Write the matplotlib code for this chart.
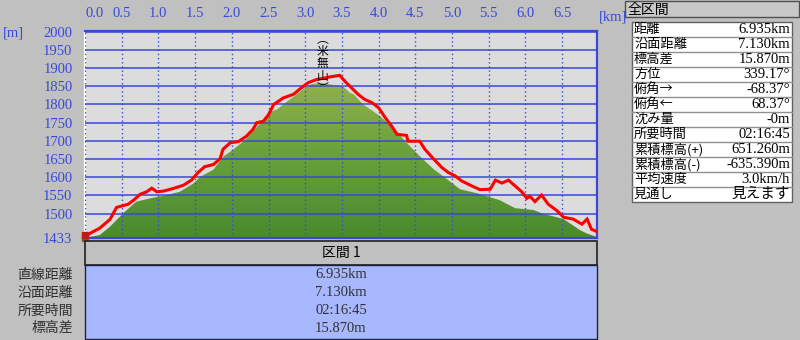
import numpy as np
import matplotlib.pyplot as plt
from matplotlib.patches import Rectangle, Polygon
from matplotlib.colors import LinearSegmentedColormap

plt.rcParams['font.family'] = ['Liberation Serif', 'Noto Sans CJK JP']

# ground profile (km, m)
terrain_km = [0.0, 0.04, 0.2, 0.34, 0.52, 0.70, 0.89, 1.11, 1.29, 1.48, 1.57, 1.75,
              1.88, 2.02, 2.20, 2.34, 2.52, 2.61, 2.79, 2.97, 3.07, 3.20, 3.43, 3.52,
              3.61, 3.66, 3.79, 4.02, 4.20, 4.38, 4.56, 4.75, 4.93, 5.11, 5.34, 5.52,
              5.65, 5.86, 6.11, 6.22, 6.52, 6.74, 6.83, 6.97]
terrain_m = [1433, 1435, 1441, 1464, 1501, 1533, 1542, 1551, 1560, 1583, 1601, 1621,
             1656, 1676, 1706, 1738, 1779, 1786, 1814, 1841, 1855, 1860, 1852, 1849,
             1832, 1828, 1800, 1768, 1736, 1695, 1658, 1622, 1595, 1567, 1556, 1545,
             1537, 1515, 1510, 1501, 1485, 1455, 1446, 1436]

# gps track (km, m)
track_km = [0.0, 0.07, 0.2, 0.34, 0.43, 0.59, 0.68, 0.75, 0.84, 0.91, 0.98, 1.07,
            1.20, 1.34, 1.45, 1.54, 1.63, 1.75, 1.84, 1.88, 1.98, 2.09, 2.20, 2.29,
            2.34, 2.43, 2.50, 2.57, 2.70, 2.84, 2.93, 3.04, 3.16, 3.25, 3.34, 3.47,
            3.54, 3.63, 3.72, 3.81, 3.91, 4.0, 4.09, 4.18, 4.25, 4.38, 4.40, 4.56,
            4.63, 4.75, 4.86, 4.95, 5.04, 5.13, 5.25, 5.38, 5.52, 5.59, 5.68, 5.77,
            5.86, 5.95, 6.02, 6.06, 6.13, 6.22, 6.31, 6.43, 6.52, 6.65, 6.77, 6.84,
            6.90, 6.97]
track_m = [1437, 1446, 1460, 1484, 1517, 1526, 1540, 1553, 1560, 1570, 1560, 1562,
           1569, 1578, 1592, 1613, 1629, 1635, 1651, 1677, 1695, 1698, 1713, 1732,
           1750, 1754, 1772, 1800, 1818, 1828, 1843, 1860, 1869, 1872, 1876, 1880,
           1864, 1846, 1828, 1814, 1805, 1791, 1764, 1740, 1718, 1715, 1699, 1699,
           1677, 1650, 1627, 1613, 1604, 1590, 1578, 1566, 1567, 1592, 1584, 1592,
           1576, 1560, 1542, 1548, 1533, 1551, 1526, 1508, 1490, 1485, 1471, 1485,
           1457, 1451]

x_ticks = [0.0, 0.5, 1.0, 1.5, 2.0, 2.5, 3.0, 3.5, 4.0, 4.5, 5.0, 5.5, 6.0, 6.5]
y_ticks = [1433, 1500, 1550, 1600, 1650, 1700, 1750, 1800, 1850, 1900, 1950, 2000]

peak_name = '米無山'
peak_km = 3.24

summary_title = '全区間'
summary_labels = ['距離', '沿面距離', '標高差', '方位', '俯角→', '俯角←', '沈み量',
                  '所要時間', '累積標高(+)', '累積標高(-)', '平均速度', '見通し']
summary_values = ['6.935km', '7.130km', '15.870m', '339.17°', '-68.37°', '68.37°', '-0m',
                  '02:16:45', '651.260m', '-635.390m', '3.0km/h', '見えます']

section_title = '区間 1'
section_labels = ['直線距離', '沿面距離', '所要時間', '標高差']
section_values = ['6.935km', '7.130km', '02:16:45', '15.870m']

W, H = 800, 340
blue = '#3848d8'


def fx(px):
    return px / W


def fy(py):
    return 1 - py / H


def box(x0, y0, x1, y1, **kw):
    r = Rectangle((fx(x0), fy(y1)), (x1 - x0) / W, (y1 - y0) / H,
                  transform=fig.transFigure, **kw)
    fig.add_artist(r)
    return r


fig = plt.figure(figsize=(8, 3.4), dpi=100, facecolor='#c0c0c0')
ax = fig.add_axes([fx(85), fy(238), (597 - 85) / W, (238 - 31) / H])
ax.set_facecolor('#dcdcdc')

# green ground with vertical gradient
cmap = LinearSegmentedColormap.from_list('g', ['#4a8a2e', '#66a03a', '#93b04c'])
grad = np.linspace(0, 1, 256).reshape(-1, 1)
im = ax.imshow(grad, extent=[0, 7, 1433, 1870], origin='lower', aspect='auto',
               cmap=cmap, zorder=1)
verts = list(zip(terrain_km, terrain_m)) + [(terrain_km[-1], 1433), (terrain_km[0], 1433)]
ground = Polygon(verts, closed=True, facecolor='none', edgecolor='none')
ax.add_patch(ground)
im.set_clip_path(ground)

ax.plot(track_km, track_m, color='#ff0000', lw=2.2, zorder=4, solid_joinstyle='miter')

# hiker marker at start
ax.plot([0.0], [1433], marker='s', color='#7a5a3a', ms=4, clip_on=False, zorder=5)
ax.plot([0.0], [1441], marker='s', color='#c01818', ms=5, clip_on=False, zorder=5)

ax.set_xlim(0, 6.975)
ax.set_ylim(1433, 2002)

ax.set_xticks(x_ticks)
ax.set_xticklabels([f'{v:.1f}' for v in x_ticks])
ax.set_yticks(y_ticks)
ax.set_yticklabels([str(v) for v in y_ticks])
ax.xaxis.tick_top()
ax.tick_params(axis='x', length=0, pad=8, labelsize=10.5, labelcolor=blue)
ax.tick_params(axis='y', length=0, pad=9, labelsize=10.5, labelcolor=blue)
ax.get_xticklabels()[0].set_horizontalalignment('left')

ax.set_axisbelow(False)
ax.grid(axis='y', color=blue, lw=1.1, ls='-')
ax.grid(axis='x', color=blue, lw=1.0, ls=(0, (1, 2)))
for s in ax.spines.values():
    s.set_color(blue)
    s.set_linewidth(1.6)
ax.spines['left'].set_color('white')

fig.text(fx(3), fy(33), '[m]', color=blue, fontsize=10.5, va='center')
fig.text(fx(599), fy(17), '[km]', color=blue, fontsize=10.5, va='center')

# peak name, vertical
ax.text(peak_km, 1998, '\n'.join('︵' + peak_name + '︶'), ha='center', va='top',
        fontsize=8.5, linespacing=0.95, color='black', zorder=6,
        family=['Noto Sans CJK JP'])

# summary table on the right
box(625, 1, 799, 17, facecolor='#c8c8c8', edgecolor='#505050', lw=1)
fig.text(fx(628), fy(9.5), summary_title, fontsize=10, va='center',
         family=['Noto Sans CJK JP'])
row_h = 15
top = 22
box(632, top, 792, top + row_h * len(summary_labels), facecolor='white',
    edgecolor='#606060', lw=1)
for i, (lab, val) in enumerate(zip(summary_labels, summary_values)):
    yc = top + row_h * i + row_h / 2
    if i > 0:
        fig.add_artist(plt.Line2D([fx(632), fx(792)], [fy(top + row_h * i)] * 2,
                                  transform=fig.transFigure, color='#909090', lw=1))
    fig.text(fx(634), fy(yc), lab, fontsize=9.5, va='center', family=['Noto Sans CJK JP'])
    fig.text(fx(790), fy(yc), val, fontsize=10.5, va='center', ha='right',
             family=['Liberation Serif', 'Noto Sans CJK JP'])

# section table at the bottom
box(85, 241, 597, 265, facecolor='#c0c0c0', edgecolor='#202020', lw=1.2)
fig.text(fx(341), fy(253), section_title, fontsize=10, ha='center', va='center',
         family=['Noto Sans CJK JP', 'Liberation Serif'])
box(85, 265, 597, 339, facecolor='#a8b8ff', edgecolor='#202040', lw=1)
for i, (lab, val) in enumerate(zip(section_labels, section_values)):
    yc = 275 + i * 17.7
    fig.text(fx(73), fy(yc), lab, fontsize=10, ha='right', va='center', color='#303030',
             family=['Noto Sans CJK JP'])
    fig.text(fx(341), fy(yc), val, fontsize=10.5, ha='center', va='center', color='#303030')

fig.savefig('out.png', dpi=100, facecolor=fig.get_facecolor())
